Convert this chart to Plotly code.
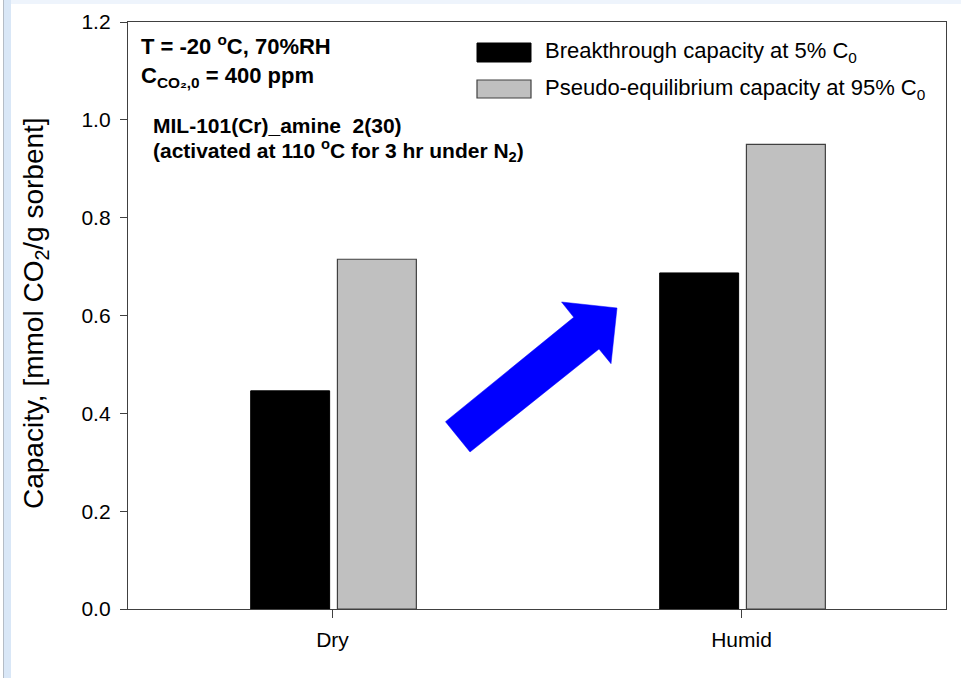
import plotly.graph_objects as go

# ---- data ----
conditions = ["Dry", "Humid"]
breakthrough = [0.446, 0.687]        # mmol CO2 / g sorbent at 5% C0
pseudo_equilibrium = [0.715, 0.950]  # mmol CO2 / g sorbent at 95% C0
y_ticks = [0.0, 0.2, 0.4, 0.6, 0.8, 1.0, 1.2]

W, H = 961, 678
L, R, T, B = 128, 15, 22, 69
PW, PH = W - L - R, H - T - B


def px(x):
    """pixel x -> paper x"""
    return (x - L) / PW


def py(y):
    """pixel y -> paper y"""
    return (H - B - y) / PH


FONT = "Liberation Sans, Arial, sans-serif"

fig = go.Figure()
fig.add_trace(go.Bar(
    x=conditions, y=breakthrough, width=0.193, offset=-0.2,
    marker=dict(color="black", line=dict(color="black", width=1)),
    name="Breakthrough capacity at 5% C<sub>0</sub>", showlegend=False,
))
fig.add_trace(go.Bar(
    x=conditions, y=pseudo_equilibrium, width=0.193, offset=0.012,
    marker=dict(color="#c0c0c0", line=dict(color="#404040", width=1.2)),
    name="Pseudo-equilibrium capacity at 95% C<sub>0</sub>", showlegend=False,
))

axis_common = dict(showline=True, linecolor="#404040", linewidth=1.3, mirror=True,
                   ticks="outside", tickcolor="#404040", tickwidth=1.2,
                   showgrid=False, zeroline=False,
                   tickfont=dict(family=FONT, size=21, color="black"))

fig.update_layout(
    width=W, height=H,
    margin=dict(l=L, r=R, t=T, b=B, autoexpand=False),
    paper_bgcolor="white", plot_bgcolor="white",
    barmode="overlay",
    xaxis=dict(type="category", range=[-0.5, 1.5], ticklen=8, ticklabelstandoff=4,
               **axis_common),
    yaxis=dict(range=[0, 1.2], tickvals=y_ticks, tickformat=".1f", ticklen=7,
               ticklabelstandoff=5, **axis_common),
    font=dict(family=FONT, color="black"),
)

# window-edge bands
fig.add_shape(type="rect", xref="paper", yref="paper", x0=px(4), x1=px(11), y0=py(H), y1=py(0),
              fillcolor="#d9e7f7", line_width=0, layer="below")
fig.add_shape(type="line", xref="paper", yref="paper", x0=px(3.5), x1=px(3.5), y0=py(H), y1=py(0),
              line=dict(color="#b4bcc6", width=1))
fig.add_shape(type="rect", xref="paper", yref="paper", x0=px(11), x1=px(W), y0=py(4), y1=py(0),
              fillcolor="#eef4fc", line_width=0, layer="below")

# blue arrow pointing from the dry to the humid bars
arrow_px = [(445.5, 421.7), (470, 452), (599, 349), (611, 363.7),
            (617, 308), (561.5, 302), (573.7, 317.3)]
path = "M " + " L ".join(f"{px(a):.4f},{py(b):.4f}" for a, b in arrow_px) + " Z"
fig.add_shape(type="path", xref="paper", yref="paper", path=path,
              fillcolor="#0000ff", line=dict(color="#0000ff", width=0.5))

# legend drawn by hand
fig.add_shape(type="rect", xref="paper", yref="paper", x0=px(477), x1=px(531), y0=py(62), y1=py(43),
              fillcolor="black", line=dict(color="black", width=1))
fig.add_shape(type="rect", xref="paper", yref="paper", x0=px(477), x1=px(531), y0=py(98), y1=py(80),
              fillcolor="#c0c0c0", line=dict(color="#404040", width=1.2))


def note(text, x, y, size, bold=False, **kw):
    fig.add_annotation(text=f"<b>{text}</b>" if bold else text, xref="paper", yref="paper",
                       x=px(x), y=py(y), xanchor=kw.pop("xanchor", "left"),
                       yanchor=kw.pop("yanchor", "middle"), showarrow=False,
                       font=dict(family=FONT, size=size, color="black"), **kw)


note("Breakthrough capacity at 5% C<sub>0</sub>", 543, 52, 22)
note("Pseudo-equilibrium capacity at 95% C<sub>0</sub>", 543, 89, 22)

note("T = -20 <sup>o</sup>C, 70%RH", 139, 45, 22, bold=True)
note("C<sub>CO₂,0</sub> = 400 ppm", 139, 77, 22, bold=True)
note("MIL-101(Cr)_amine  2(30)", 151, 125, 21, bold=True)
note("(activated at 110 <sup>o</sup>C for 3 hr under N<sub>2</sub>)", 151, 151, 21, bold=True)

note("Capacity, [mmol CO<sub>2</sub>/g sorbent]", 35, 313, 28, xanchor="center", textangle=-90)

fig.write_html("out.html")
